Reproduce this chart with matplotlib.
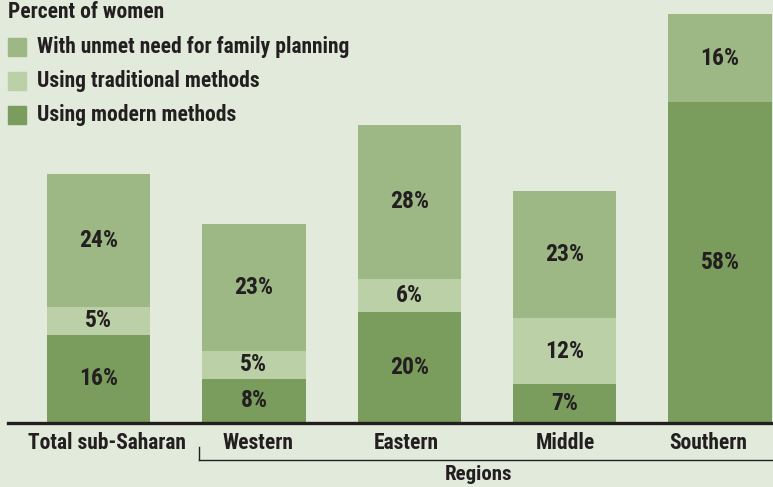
import matplotlib.pyplot as plt
from matplotlib.lines import Line2D
from matplotlib.patches import Rectangle

categories = ['Total sub-Saharan', 'Western', 'Eastern', 'Middle', 'Southern']
modern = [16, 8, 20, 7, 58]
traditional = [5, 5, 6, 12, 0]
unmet = [24, 23, 28, 23, 16]

series_names = ['With unmet need for family planning', 'Using traditional methods', 'Using modern methods']

bg = '#e2eadb'
c_unmet = '#9db885'
c_trad = '#bcd0a8'
c_modern = '#7a9d5e'
dark = '#231f20'

plt.rcParams['font.family'] = ['Roboto Condensed', 'Roboto', 'DejaVu Sans']
plt.rcParams['font.weight'] = 'bold'

fig = plt.figure(figsize=(7.73, 4.87), dpi=100)
fig.patch.set_facecolor(bg)
ax = fig.add_axes([0, 64 / 487, 1, 409 / 487])
ax.set_facecolor(bg)
ax.axis('off')

step = 155.4  # px between bar centres
x = list(range(len(categories)))
w = 0.665
ax.bar(x, modern, width=w, color=c_modern)
ax.bar(x, traditional, width=w, bottom=modern, color=c_trad)
bottom2 = [m + t for m, t in zip(modern, traditional)]
ax.bar(x, unmet, width=w, bottom=bottom2, color=c_unmet)

for i in x:
    for val, base in [(modern[i], 0), (traditional[i], modern[i]), (unmet[i], bottom2[i])]:
        if val > 0:
            ax.text(i, base + val / 2, f'{val}%', ha='center', va='center',
                    fontsize=17, color=dark, fontweight='bold')

ax.set_xlim(-98.5 / step, (773 - 98.5) / step)
ax.set_ylim(0, 74)
ax.axhline(0, xmin=8 / 773, xmax=1, lw=2.4, color=dark, clip_on=False)

# category labels, nudged a little like the original
label_nudge = [8, 4, -3, 1, -12]  # px
for i, c in enumerate(categories):
    ax.text(i + label_nudge[i] / step, -3.6, c, ha='center', va='center', fontsize=15.5,
            color=dark, fontweight='bold')

# regions bracket
fig.add_artist(Line2D([199 / 773, 199 / 773], [1 - 447 / 487, 1 - 460 / 487], color=dark, lw=1))
fig.add_artist(Line2D([199 / 773, 1], [1 - 460 / 487, 1 - 460 / 487], color=dark, lw=1))
fig.text(478 / 773, 3 / 487, 'Regions', ha='center', va='bottom', fontsize=15,
         color=dark, fontweight='bold')

# legend
fig.text(8 / 773, 1 - 12 / 487, 'Percent of women', ha='left', va='center', fontsize=15.5,
         color=dark, fontweight='bold')
for k, (name, col) in enumerate(zip(series_names, [c_unmet, c_trad, c_modern])):
    yc = 46.5 + k * 34
    fig.add_artist(Rectangle((8 / 773, 1 - (yc + 9) / 487), 18 / 773, 18 / 487,
                             transform=fig.transFigure, color=col))
    fig.text(37 / 773, 1 - yc / 487, name, ha='left', va='center', fontsize=15.5,
             color=dark, fontweight='bold')

fig.savefig('out.png', dpi=100, facecolor=bg)
